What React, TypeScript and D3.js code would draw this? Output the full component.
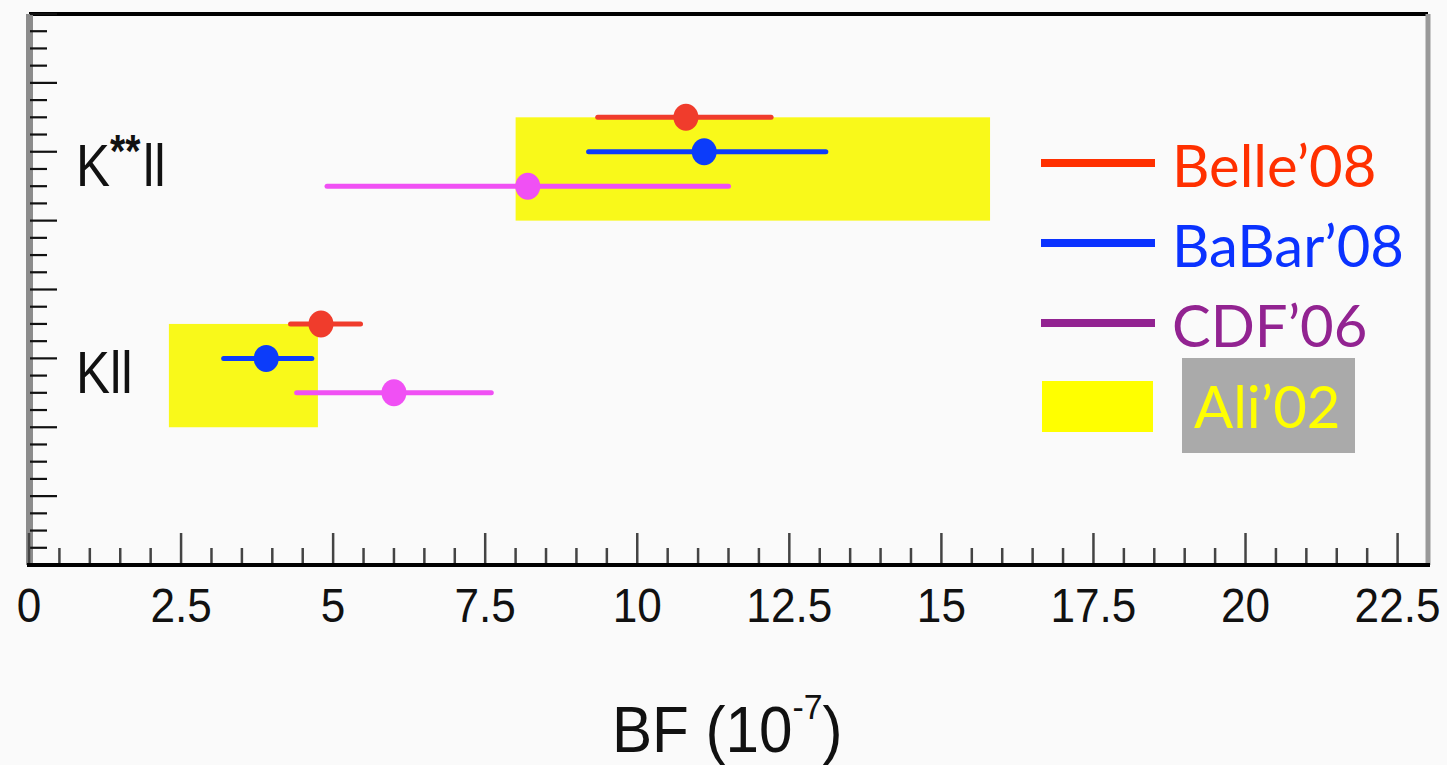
import React, { useEffect } from "react";
import * as d3 from "d3";

// Branching fractions in units of 1e-7
const experiments = ["Belle\u201908", "BaBar\u201908", "CDF\u201906"];
const expColors = ["#f03c2c", "#0c3cfa", "#f050f4"];
const legendColors = ["#ff3000", "#0a32ff", "#922391"];

// K*ll measurements: central value, lower and upper edge of the error bar
const kstarCentral = [10.8, 11.1, 8.2];
const kstarLow = [9.35, 9.2, 4.9];
const kstarHigh = [12.2, 13.1, 11.5];
const kstarRows = [6.5, 6.0, 5.5];

// Kll measurements
const kCentral = [4.8, 3.9, 6.0];
const kLow = [4.3, 3.2, 4.4];
const kHigh = [5.45, 4.65, 7.6];
const kRows = [3.5, 3.0, 2.5];

// Theory prediction (Ali'02) bands: [xMin, xMax, yMin, yMax]
const aliKstar = [8.0, 15.8, 5.0, 6.5];
const aliK = [2.3, 4.75, 2.0, 3.5];

const xTickLabels = ["0", "2.5", "5", "7.5", "10", "12.5", "15", "17.5", "20", "22.5"];

const W = 1447;
const H = 765;
const margin = { left: 29, right: 19, top: 14, bottom: 200 };

export default function App() {
  useEffect(() => {
    document.body.style.margin = "0";
    document.body.style.background = "#fafafa";
  }, []);

  const x = d3.scaleLinear().domain([0, 23]).range([margin.left, W - margin.right]);
  const y = d3.scaleLinear().domain([0, 8]).range([H - margin.bottom, margin.top]);

  const xMajor = xTickLabels.map((t) => +t);
  const xMinor = d3.range(0, 23, 0.5).filter((v) => Math.abs(v / 2.5 - Math.round(v / 2.5)) > 1e-6);
  const yTicks = d3.range(0, 8.001, 0.25);

  const x0 = x(0);
  const x1 = x(23);
  const yb = y(0);
  const yt = y(8);

  const groups = [
    { c: kstarCentral, lo: kstarLow, hi: kstarHigh, rows: kstarRows },
    { c: kCentral, lo: kLow, hi: kHigh, rows: kRows },
  ];
  const bands = [aliKstar, aliK];

  const axisFont = "'Liberation Sans', Arial, sans-serif";
  const legendFont = "Lato, 'Open Sans', sans-serif";

  return (
    <svg width={W} height={H} style={{ display: "block", background: "#fafafa" }}>
      <rect x={0} y={0} width={W} height={H} fill="#fafafa" />

      {/* theory bands */}
      {bands.map((b, i) => (
        <rect
          key={"band" + i}
          x={x(b[0])}
          y={y(b[3])}
          width={x(b[1]) - x(b[0])}
          height={y(b[2]) - y(b[3])}
          fill="#f9f91a"
        />
      ))}

      {/* measurements */}
      {groups.map((g, gi) =>
        g.c.map((v, i) => (
          <g key={`m${gi}-${i}`}>
            <line
              x1={x(g.lo[i])}
              x2={x(g.hi[i])}
              y1={y(g.rows[i])}
              y2={y(g.rows[i])}
              stroke={expColors[i]}
              strokeWidth={5}
              strokeLinecap="round"
            />
            <ellipse cx={x(v)} cy={y(g.rows[i])} rx={12.5} ry={13.5} fill={expColors[i]} />
          </g>
        ))
      )}

      {/* frame */}
      <line x1={x0} x2={x1} y1={yt} y2={yt} stroke="#000" strokeWidth={4} />
      <line x1={x1} x2={x1} y1={yt} y2={yb} stroke="#999" strokeWidth={5} />
      <rect x={x0 - 3} y={yt} width={7} height={yb - yt} fill="#8c8c8c" />

      {/* y ticks */}
      {yTicks.map((v, i) => {
        const major = Math.abs(v - Math.round(v)) < 1e-6;
        return (
          <line
            key={"yt" + i}
            x1={x0 + 1}
            x2={x0 + (major ? 28 : 18)}
            y1={y(v)}
            y2={y(v)}
            stroke="#111"
            strokeWidth={2.2}
          />
        );
      })}

      {/* x ticks */}
      {xMinor.map((v, i) => (
        <line key={"xm" + i} x1={x(v)} x2={x(v)} y1={yb} y2={yb - 17} stroke="#444" strokeWidth={2.5} />
      ))}
      {xMajor.map((v, i) => (
        <line key={"xM" + i} x1={x(v)} x2={x(v)} y1={yb} y2={yb - 32} stroke="#444" strokeWidth={2.5} />
      ))}
      <line x1={x0 - 2} x2={x1 + 2} y1={yb} y2={yb} stroke="#000" strokeWidth={4} />

      {/* x tick labels */}
      {xTickLabels.map((t, i) => (
        <text
          key={"xl" + i}
          transform={`translate(${x(xMajor[i])},${yb + 57}) scale(0.92,1)`}
          textAnchor="middle"
          fontFamily={axisFont}
          fontSize={48}
          fill="#111"
        >
          {t}
        </text>
      ))}

      {/* axis title */}
      <text
        transform={`translate(612,752) scale(0.94,1)`}
        fontFamily={axisFont}
        fontSize={64}
        fill="#111"
      >
        BF (10
        <tspan fontSize={36} dy={-33}>
          -7
        </tspan>
        <tspan dy={33}>)</tspan>
      </text>

      {/* category labels */}
      <text
        transform={`translate(${x0 + 47},${y(kstarRows[2])}) scale(0.85,1)`}
        fontFamily={axisFont}
        fontSize={60}
        fill="#111"
      >
        K
        <tspan fontSize={46} dy={-19} fontWeight="bold">
          **
        </tspan>
        <tspan dy={19} dx={3}>
          ll
        </tspan>
      </text>
      <text
        transform={`translate(${x0 + 47},${y(kRows[2])}) scale(0.85,1)`}
        fontFamily={axisFont}
        fontSize={60}
        fill="#111"
      >
        Kll
      </text>

      {/* legend */}
      {experiments.map((e, i) => (
        <g key={"lg" + i}>
          <line x1={1041} x2={1155} y1={163 + i * 80} y2={163 + i * 80} stroke={legendColors[i]} strokeWidth={8} />
          <text x={1172} y={187 + i * 80} fontFamily={legendFont} fontSize={58} fill={legendColors[i]}>
            {e}
          </text>
        </g>
      ))}
      <rect x={1042} y={381} width={111} height={51} fill="#ffff00" />
      <rect x={1182} y={358} width={173} height={95} fill="#aaaaaa" />
      <text x={1194} y={428} fontFamily={legendFont} fontSize={58} fill="#ffff00">
        Ali’02
      </text>
    </svg>
  );
}
